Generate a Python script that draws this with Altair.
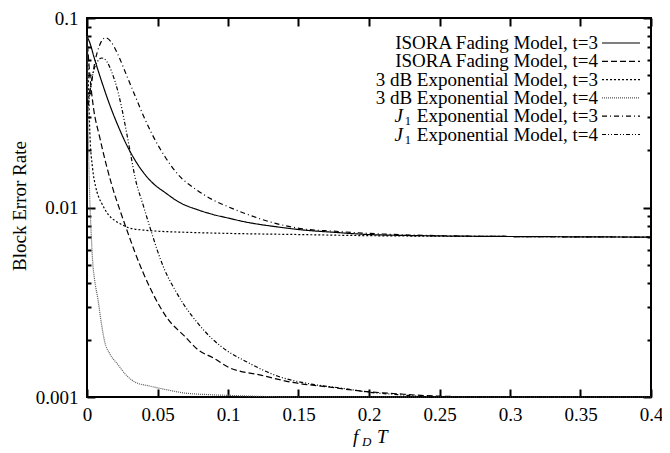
import altair as alt
import pandas as pd

# ---------------- data ----------------
series_names = ["ISORA t=3", "ISORA t=4", "3dB t=3", "3dB t=4", "J1 t=3", "J1 t=4"]

isora3_x = [0, 0.002, 0.005, 0.0105, 0.016, 0.022, 0.028, 0.034, 0.04, 0.046, 0.056, 0.065, 0.079, 0.089, 0.1, 0.112, 0.135, 0.154, 0.175, 0.2, 0.25, 0.3, 0.35, 0.4]
isora3_y = [0.08, 0.074, 0.062, 0.046, 0.035, 0.027, 0.0215, 0.0178, 0.0153, 0.0136, 0.0119, 0.0107, 0.0097, 0.0092, 0.0088, 0.0084, 0.0079, 0.0076, 0.0074, 0.0072, 0.00708, 0.00703, 0.007, 0.00698]

isora4_x = [0, 0.002, 0.0045, 0.009, 0.0135, 0.0175, 0.0246, 0.03, 0.034, 0.04, 0.046, 0.057, 0.069, 0.079, 0.09, 0.1, 0.124, 0.147, 0.171, 0.192, 0.22, 0.25, 0.3, 0.4]
isora4_y = [0.08, 0.05, 0.034, 0.0235, 0.017, 0.0132, 0.0091, 0.0070, 0.0058, 0.0045, 0.0036, 0.0026, 0.0021, 0.00177, 0.0016, 0.00144, 0.0013, 0.00119, 0.00113, 0.00108, 0.00104, 0.00101, 0.001, 0.001]

db3_x = [0, 0.001, 0.002, 0.004, 0.006, 0.008, 0.0105, 0.015, 0.02, 0.025, 0.03, 0.04, 0.05, 0.07, 0.1, 0.15, 0.2, 0.3, 0.4]
db3_y = [0.08, 0.045, 0.025, 0.016, 0.013, 0.0115, 0.0105, 0.0092, 0.0085, 0.0081, 0.0078, 0.0076, 0.0075, 0.0074, 0.0073, 0.0072, 0.0071, 0.00703, 0.00698]

db4_x = [0, 0.0005, 0.001, 0.002, 0.003, 0.004, 0.0055, 0.0077, 0.01, 0.0126, 0.016, 0.022, 0.028, 0.034, 0.045, 0.057, 0.069, 0.085, 0.1, 0.15, 0.2, 0.3, 0.4]
db4_y = [0.08, 0.04, 0.022, 0.011, 0.0072, 0.0052, 0.0041, 0.0033, 0.0025, 0.00195, 0.0017, 0.00148, 0.0013, 0.0012, 0.00114, 0.00109, 0.00105, 0.00103, 0.00102, 0.001, 0.001, 0.001, 0.001]

j13_x = [0, 0.003, 0.0056, 0.009, 0.013, 0.017, 0.022, 0.028, 0.034, 0.04, 0.046, 0.056, 0.065, 0.077, 0.089, 0.1, 0.112, 0.135, 0.154, 0.175, 0.2, 0.25, 0.3, 0.4]
j13_y = [0.035, 0.045, 0.0586, 0.072, 0.0787, 0.075, 0.064, 0.05, 0.039, 0.0305, 0.0245, 0.0182, 0.0148, 0.0125, 0.011, 0.0101, 0.0093, 0.0082, 0.0077, 0.0075, 0.0073, 0.0071, 0.00703, 0.00698]

j14_x = [0, 0.004, 0.0075, 0.0105, 0.014, 0.0175, 0.022, 0.025, 0.028, 0.031, 0.034, 0.04, 0.046, 0.05, 0.055, 0.062, 0.069, 0.079, 0.089, 0.1, 0.112, 0.135, 0.159, 0.182, 0.2, 0.22, 0.25, 0.3, 0.4]
j14_y = [0.03, 0.05, 0.059, 0.0615, 0.059, 0.052, 0.0407, 0.0325, 0.025, 0.019, 0.0145, 0.0102, 0.0073, 0.0059, 0.0047, 0.00372, 0.00305, 0.00243, 0.00202, 0.00174, 0.00155, 0.00129, 0.00117, 0.00111, 0.00106, 0.00103, 0.001, 0.001, 0.001]

x_ticks = [0, 0.05, 0.1, 0.15, 0.2, 0.25, 0.3, 0.35, 0.4]
y_major = [0.001, 0.01, 0.1]
y_minor = [m * d for d in (0.001, 0.01) for m in range(2, 10)]

legend_main = ["ISORA Fading Model, t=3", "ISORA Fading Model, t=4",
               "3 dB Exponential Model, t=3", "3 dB Exponential Model, t=4",
               "Exponential Model, t=3", "Exponential Model, t=4"]
legend_prefix = ["", "", "", "", "J", "J"]
legend_sub = ["", "", "", "", "1", "1"]

y_title = "Block Error Rate"
x_title_parts = ["f", "D", "T"]

# ---------------- styles ----------------
dashes = [[1, 0], [6, 3], [2, 2], [1, 1], [5, 3, 1, 3], [4, 2, 1, 2, 1, 2]]
colors = ["#000000", "#000000", "#000000", "#555555", "#000000", "#000000"]
FONT = "Liberation Serif"
W, H = 564, 379
X_MIN, X_MAX = 0, 0.4
Y_MIN, Y_MAX = 0.001, 0.1

all_x = [isora3_x, isora4_x, db3_x, db4_x, j13_x, j14_x]
all_y = [isora3_y, isora4_y, db3_y, db4_y, j13_y, j14_y]
rows = []
for name, xs, ys in zip(series_names, all_x, all_y):
    for i, (xv, yv) in enumerate(zip(xs, ys)):
        rows.append({"series": name, "fdt": xv, "bler": yv, "order": i})
df = pd.DataFrame(rows)

xscale = alt.Scale(domain=[X_MIN, X_MAX], nice=False, zero=False)
yscale = alt.Scale(type="log", domain=[Y_MIN, Y_MAX], nice=False)


def make_axis(orient, values, size, labels, pad=8, fmt=None):
    kw = dict(orient=orient, values=values, ticks=True, tickSize=size, tickWidth=2, tickColor="black",
              offset=-size, domain=False, grid=False, labels=labels, title=None)
    if labels:
        kw.update(format=fmt, labelFont=FONT, labelFontSize=19, labelColor="black", labelPadding=pad,
                  labelOverlap=False, labelBound=False, labelFlush=False)
    return alt.Axis(**kw)


lines = alt.Chart(df).mark_line(interpolate="monotone", strokeWidth=1.2).encode(
    x=alt.X("fdt:Q", scale=xscale, axis=make_axis("bottom", x_ticks, 8, True, 8, ".2~f"), title=None),
    y=alt.Y("bler:Q", scale=yscale, axis=make_axis("left", y_major, 8, True, 9, ".3~f"), title=None),
    strokeDash=alt.StrokeDash("series:N", scale=alt.Scale(domain=series_names, range=dashes), legend=None),
    color=alt.Color("series:N", scale=alt.Scale(domain=series_names, range=colors), legend=None),
    order="order:Q",
)

# invisible carriers for the mirrored / minor inward tick axes
carrier = pd.DataFrame({"fdt": [X_MIN, X_MAX], "bler": [Y_MIN, Y_MAX]})
top_right = alt.Chart(carrier).mark_point(opacity=0).encode(
    x=alt.X("fdt:Q", scale=xscale, axis=make_axis("top", x_ticks, 8, False), title=None),
    y=alt.Y("bler:Q", scale=yscale, axis=make_axis("right", y_major, 8, False), title=None))
left_minor = alt.Chart(carrier).mark_point(opacity=0).encode(
    x=alt.X("fdt:Q", scale=xscale, axis=None, title=None),
    y=alt.Y("bler:Q", scale=yscale, axis=make_axis("left", y_minor, 4, False), title=None))
right_minor = alt.Chart(carrier).mark_point(opacity=0).encode(
    x=alt.X("fdt:Q", scale=xscale, axis=None, title=None),
    y=alt.Y("bler:Q", scale=yscale, axis=make_axis("right", y_minor, 4, False), title=None))

layers = [lines, top_right, left_minor, right_minor]

# legend (manual, labels left of samples as in the reference)
LX = 511
for i, name in enumerate(series_names):
    yy = 25 + 18.3 * i
    ld = pd.DataFrame({"label": [legend_main[i]], "pre": [legend_prefix[i]], "sub": [legend_sub[i]]})
    layers.append(alt.Chart(ld).mark_text(font=FONT, fontSize=19, align="right", baseline="middle", color="black")
                  .encode(text="label:N", x=alt.value(LX), y=alt.value(yy)))
    if legend_prefix[i]:
        layers.append(alt.Chart(ld).mark_text(font=FONT, fontSize=12.5, align="right", baseline="middle", color="black")
                      .encode(text="sub:N", x=alt.value(LX - 187), y=alt.value(yy + 5)))
        layers.append(alt.Chart(ld).mark_text(font=FONT, fontSize=19, fontStyle="italic", align="right",
                                              baseline="middle", color="black")
                      .encode(text="pre:N", x=alt.value(LX - 195), y=alt.value(yy)))
    layers.append(alt.Chart(ld).mark_rule(strokeWidth=1.2, strokeDash=dashes[i], color=colors[i])
                  .encode(x=alt.value(515), x2=alt.value(553), y=alt.value(yy)))

# axis titles
yt = pd.DataFrame({"t": [y_title]})
layers.append(alt.Chart(yt).mark_text(font=FONT, fontSize=19, angle=270, align="center", baseline="middle", color="black")
              .encode(text="t:N", x=alt.value(-67), y=alt.value(188)))
xtt = pd.DataFrame({"f": [x_title_parts[0]], "d": [x_title_parts[1]], "T": [x_title_parts[2]]})
layers.append(alt.Chart(xtt).mark_text(font=FONT, fontSize=19, fontStyle="italic", align="left", baseline="middle", color="black")
              .encode(text="f:N", x=alt.value(266), y=alt.value(419)))
layers.append(alt.Chart(xtt).mark_text(font=FONT, fontSize=13, fontStyle="italic", align="left", baseline="middle", color="black")
              .encode(text="d:N", x=alt.value(275), y=alt.value(424)))
layers.append(alt.Chart(xtt).mark_text(font=FONT, fontSize=19, fontStyle="italic", align="left", baseline="middle", color="black")
              .encode(text="T:N", x=alt.value(290), y=alt.value(419)))

chart = alt.layer(*layers).resolve_axis(x="independent", y="independent").properties(
    width=W, height=H,
    autosize=alt.AutoSizeParams(type="none"),
    padding={"left": 79, "top": 10, "right": 11, "bottom": 56},
).configure_view(stroke="black", strokeWidth=2)

chart.save("out.html", embed_options={"renderer": "svg", "actions": False})
